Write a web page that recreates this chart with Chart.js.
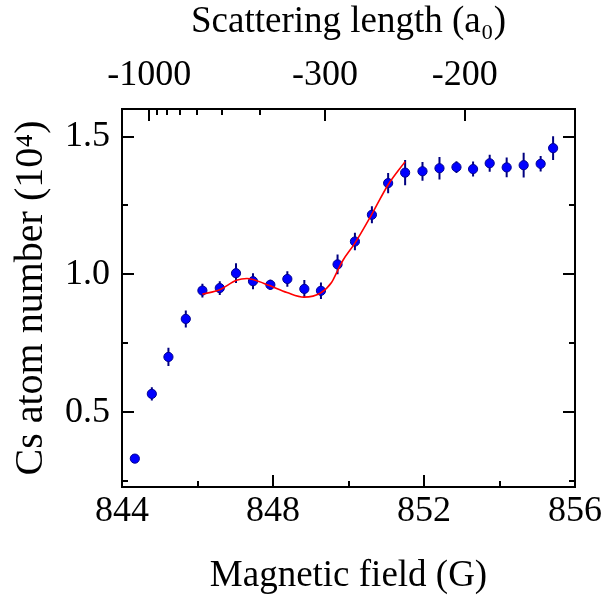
<!DOCTYPE html>
<html>
<head>
<meta charset="utf-8">
<script src="https://cdn.jsdelivr.net/npm/chart.js@4.4.1/dist/chart.umd.min.js"></script>
<style>
    html, body { margin: 0; padding: 0; background: #fff; }
    canvas { display: block; }
</style>
</head>
<body>
<canvas id="fieldChart" width="609" height="597"></canvas>
<script>
/* Messpunkte: Magnetfeld (G), Cs-Atomzahl (10^4) und Fehler */
const fields = [844.34, 844.79, 845.23, 845.69, 846.13, 846.59, 847.02, 847.47, 847.93, 848.38, 848.83, 849.27, 849.71,
    850.17, 850.62, 851.05, 851.50, 851.96, 852.41, 852.86, 853.30, 853.74, 854.19, 854.64, 855.09, 855.42];
const atoms = [0.331, 0.566, 0.700, 0.838, 0.941, 0.950, 1.004, 0.975, 0.962, 0.983, 0.947, 0.940, 1.036,
    1.119, 1.216, 1.331, 1.369, 1.374, 1.385, 1.389, 1.382, 1.403, 1.388, 1.396, 1.401, 1.458];
const atomErrors = [0.008, 0.024, 0.033, 0.031, 0.025, 0.025, 0.036, 0.029, 0.018, 0.028, 0.032, 0.030, 0.036,
    0.032, 0.031, 0.037, 0.046, 0.034, 0.041, 0.021, 0.027, 0.031, 0.036, 0.045, 0.028, 0.043];

/* Fit-Kurve (rot) */
const fitFields = [846.13, 846.59, 847.03, 847.31, 847.47, 847.91, 848.37, 848.82, 849.26, 849.55, 849.70, 849.85,
    850.17, 850.61, 851.05, 851.50];
const fitAtoms = [0.928, 0.944, 0.978, 0.985, 0.981, 0.959, 0.934, 0.917, 0.932, 0.970, 1.010, 1.050,
    1.113, 1.216, 1.325, 1.409];

/* Achsen-Ticks */
const fieldTicks = [844, 846, 848, 850, 852, 854, 856];
const fieldLabels = ['844', '', '848', '', '852', '', '856'];
const atomTicks = [0.25, 0.5, 0.75, 1.0, 1.25, 1.5];
const atomLabels = ['', '0.5', '', '1.0', '', '1.5'];
const scatTicks = [-1000, -900, -800, -700, -600, -500, -400, -300, -200];
const scatLabels = ['-1000', '', '', '', '', '', '', '-300', '-200'];

/* Streulaenge -> Feld, a = abg + k / (B - B0) */
const RES_B0 = 842.893, RES_K = -1786, RES_ABG = -24.7;
const fieldOfScat = (a) => RES_B0 + RES_K / (a - RES_ABG);

const FONT = 'Liberation Serif, Times New Roman, serif';

function fixedTicks(values, labels) {
    return (scale) => {
        scale.ticks = values.map((v, i) => ({ value: v, major: labels[i] !== '' }));
    };
}

/* Ticks nach innen, major lang, minor kurz */
const innerTicks = {
    id: 'innerTicks',
    afterDraw(chart) {
        const { ctx, chartArea: a } = chart;
        ctx.save();
        ctx.strokeStyle = '#000';
        ctx.lineWidth = 2;
        ctx.beginPath();
        ['x', 'x2', 'y', 'y2'].forEach((id) => {
            const scale = chart.scales[id];
            scale.ticks.forEach((t) => {
                const p = Math.round(scale.getPixelForValue(t.value));
                const len = t.major ? 12 : 6;
                if (id === 'x') { ctx.moveTo(p, a.bottom); ctx.lineTo(p, a.bottom - len); }
                if (id === 'x2') { ctx.moveTo(p, a.top); ctx.lineTo(p, a.top + len); }
                if (id === 'y') { ctx.moveTo(a.left, p); ctx.lineTo(a.left + len, p); }
                if (id === 'y2') { ctx.moveTo(a.right, p); ctx.lineTo(a.right - len, p); }
            });
        });
        ctx.stroke();
        ctx.restore();
    }
};

/* Fehlerbalken unter den Punkten */
const errorBars = {
    id: 'errorBars',
    beforeDatasetsDraw(chart) {
        const { ctx, scales: { x, y } } = chart;
        ctx.save();
        ctx.strokeStyle = '#000080';
        ctx.lineWidth = 2;
        ctx.beginPath();
        fields.forEach((f, i) => {
            const px = x.getPixelForValue(f);
            ctx.moveTo(px, y.getPixelForValue(atoms[i] - atomErrors[i]));
            ctx.lineTo(px, y.getPixelForValue(atoms[i] + atomErrors[i]));
        });
        ctx.stroke();
        ctx.restore();
    }
};

const border = { display: true, color: '#000', width: 2 };
const noGrid = { display: false, drawTicks: false };
const tickFont = { family: FONT, size: 36, lineHeight: 1 };
const titleFont = { family: FONT, size: 37, lineHeight: 1 };

new Chart(document.getElementById('fieldChart'), {
    type: 'scatter',
    data: {
        datasets: [
            {
                type: 'line',
                data: fitFields.map((f, i) => ({ x: f, y: fitAtoms[i] })),
                borderColor: '#ff0000',
                borderWidth: 1.6,
                pointRadius: 0,
                fill: false,
                cubicInterpolationMode: 'monotone',
                order: 0
            },
            {
                data: fields.map((f, i) => ({ x: f, y: atoms[i] })),
                pointRadius: 4.6,
                backgroundColor: '#0000ff',
                borderColor: '#000090',
                borderWidth: 1,
                order: 1
            }
        ]
    },
    options: {
        responsive: false,
        animation: false,
        devicePixelRatio: 1,
        layout: { padding: { left: 0, right: 31, top: 0, bottom: 0 } },
        plugins: { legend: { display: false }, tooltip: { enabled: false } },
        scales: {
            x: {
                type: 'linear', position: 'bottom', min: 844, max: 856,
                grid: noGrid, border,
                afterBuildTicks: fixedTicks(fieldTicks, fieldLabels),
                afterFit: (s) => { s.height = 110; },
                ticks: {
                    autoSkip: false, maxRotation: 0, minRotation: 0, padding: 7,
                    color: '#000', font: tickFont,
                    callback: (v, i) => fieldLabels[i]
                },
                title: {
                    display: true, text: 'Magnetic field (G)', color: '#000',
                    font: titleFont, padding: { top: 0, bottom: 2 }
                }
            },
            x2: {
                type: 'linear', position: 'top', min: 844, max: 856,
                grid: noGrid, border,
                afterBuildTicks: fixedTicks(scatTicks.map(fieldOfScat), scatLabels),
                afterFit: (s) => { s.height = 109; },
                ticks: {
                    autoSkip: false, maxRotation: 0, minRotation: 0, padding: 15,
                    color: '#000', font: tickFont,
                    callback: (v, i) => scatLabels[i]
                },
                title: {
                    display: true, text: 'Scattering length (a\u2080)', color: '#000',
                    font: titleFont, padding: { top: 4, bottom: 0 }
                }
            },
            y: {
                type: 'linear', position: 'left', min: 0.228, max: 1.6,
                grid: noGrid, border,
                afterBuildTicks: fixedTicks(atomTicks, atomLabels),
                afterFit: (s) => { s.width = 122; },
                ticks: {
                    autoSkip: false, padding: 12,
                    color: '#000', font: tickFont,
                    callback: (v, i) => atomLabels[i]
                },
                title: {
                    display: true, text: 'Cs atom number (10\u2074)', color: '#000',
                    font: { family: FONT, size: 40, lineHeight: 1 }, padding: { top: 11, bottom: 0 }
                }
            },
            y2: {
                type: 'linear', position: 'right', min: 0.228, max: 1.6,
                grid: noGrid, border,
                afterBuildTicks: fixedTicks(atomTicks, atomLabels),
                afterFit: (s) => { s.width = 0; },
                ticks: { display: false }
            }
        }
    },
    plugins: [errorBars, innerTicks]
});
</script>
</body>
</html>
